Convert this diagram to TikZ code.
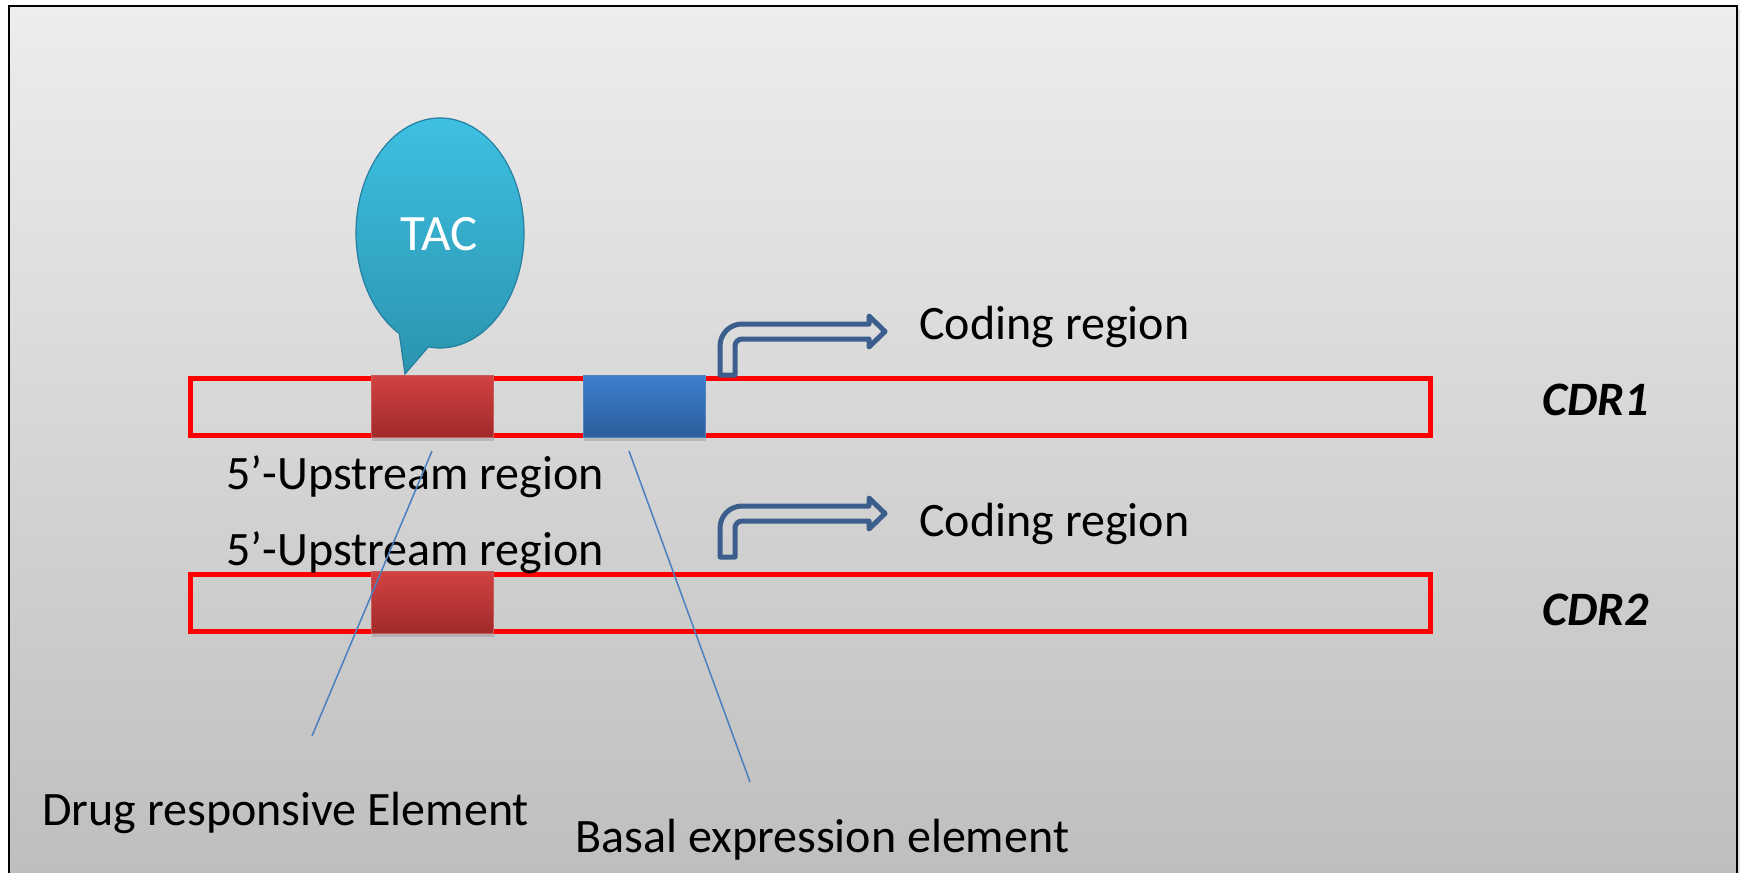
\documentclass[tikz,border=0pt]{standalone}
\usepackage{fontspec}
\setmainfont{Carlito}
\usepackage{xcolor}
\usetikzlibrary{positioning,shadows,calc}

\definecolor{panelTop}{HTML}{EDEDED}
\definecolor{panelBot}{HTML}{BEBEBE}
\definecolor{drugTop}{HTML}{D24242}
\definecolor{drugBot}{HTML}{A02A2A}
\definecolor{drugEdge}{HTML}{C85A5A}
\definecolor{basalTop}{HTML}{3D80CE}
\definecolor{basalBot}{HTML}{2C5D9B}
\definecolor{basalEdge}{HTML}{5583C0}
\definecolor{tacTop}{HTML}{40C2E6}
\definecolor{tacBot}{HTML}{2A94AE}
\definecolor{tacEdge}{HTML}{2580A0}
\definecolor{promoterBlue}{HTML}{3B5E8C}
\definecolor{pointerBlue}{HTML}{4A7FC0}

\begin{document}
\begin{tikzpicture}[x=0.5pt, y=-0.5pt,
    label text/.style={font=\fontsize{24}{28}\selectfont, inner sep=0pt, anchor=base west},
    cdr strand/.style={draw=red, line width=2.5pt, minimum width=620pt, minimum height=28.5pt, inner sep=0pt},
    element box/.style={minimum width=61pt, minimum height=31pt, inner sep=0pt, line width=0.5pt,
        drop shadow={shadow xshift=0.5pt, shadow yshift=-1.5pt, opacity=0.35}},
    drug box/.style={element box, top color=drugTop, bottom color=drugBot, draw=drugEdge},
    basal box/.style={element box, top color=basalTop, bottom color=basalBot, draw=basalEdge},
    promoter/.style={draw=promoterBlue, line width=2.5pt, line join=round},
    pointer/.style={draw=pointerBlue, line width=0.75pt}]
    \useasboundingbox (0,0) rectangle (1743,872);

    % Background panel
    \shade[top color=panelTop, bottom color=panelBot, draw=black, line width=1.25pt,
        drop shadow={shadow xshift=1.5pt, shadow yshift=-1.5pt, opacity=0.25}]
        (9,6) rectangle (1737,880);

    % Draw the two strands
    \foreach \i/\y in {1/406.5, 2/602.5} {
        \node[cdr strand] (cdr\i) at (810,\y) {};
        \node[drug box] (dre\i) at (432,\y) {};
    }
    \node[basal box] (bee) at (644,406.5) {};

    % Strand names
    \node[label text, font=\fontsize{24}{28}\selectfont\bfseries\itshape] (cdr1 name) at (1542,415) {CDR1};
    \node[label text, font=\fontsize{24}{28}\selectfont\bfseries\itshape] (cdr2 name) at (1542,625) {CDR2};

    % Promoter arrows
    \foreach \dy in {0,182} {
        \begin{scope}[shift={(0,\dy)}]
            \draw[promoter] (720,375) -- (720,346) arc[start angle=180, end angle=270, radius=22]
                -- (869,324) -- (869,316) -- (885,331.5) -- (869,347) -- (869,339) -- (742,339)
                arc[start angle=270, end angle=180, radius=7] -- (735,375) -- cycle;
        \end{scope}
    }

    % Region labels
    \node[label text] (coding1) at (919,339) {Coding region};
    \node[label text] (coding2) at (919,536) {Coding region};
    \node[label text] (upstream1) at (226,489) {5’-Upstream region};
    \node[label text] (upstream2) at (226,565) {5’-Upstream region};

    % TAC bubble
    \coordinate (bubble) at (440,233);
    \coordinate (tac tip) at (405,374);
    \shade[top color=tacTop, bottom color=tacBot, draw=tacEdge, line width=0.6pt]
        ($(bubble)+(119:84 and 115)$) arc[start angle=119, end angle=458, x radius=84, y radius=115]
        -- (tac tip) -- cycle;
    \node[font=\fontsize{25.5}{29}\selectfont, text=white, inner sep=0pt] (tac) at (439,234) {TAC};

    % Element labels and pointers
    \node[label text] (drug label) at (42,825) {Drug responsive Element};
    \node[label text] (basal label) at (575,852) {Basal expression element};
    \coordinate (drug end) at (312,736);
    \coordinate (basal end) at (750,782);
    \draw[pointer] ([yshift=-6.5pt]dre1.south) -- (drug end);
    \draw[pointer] ([xshift=-7.5pt, yshift=-6.5pt]bee.south) -- (basal end);
\end{tikzpicture}
\end{document}
